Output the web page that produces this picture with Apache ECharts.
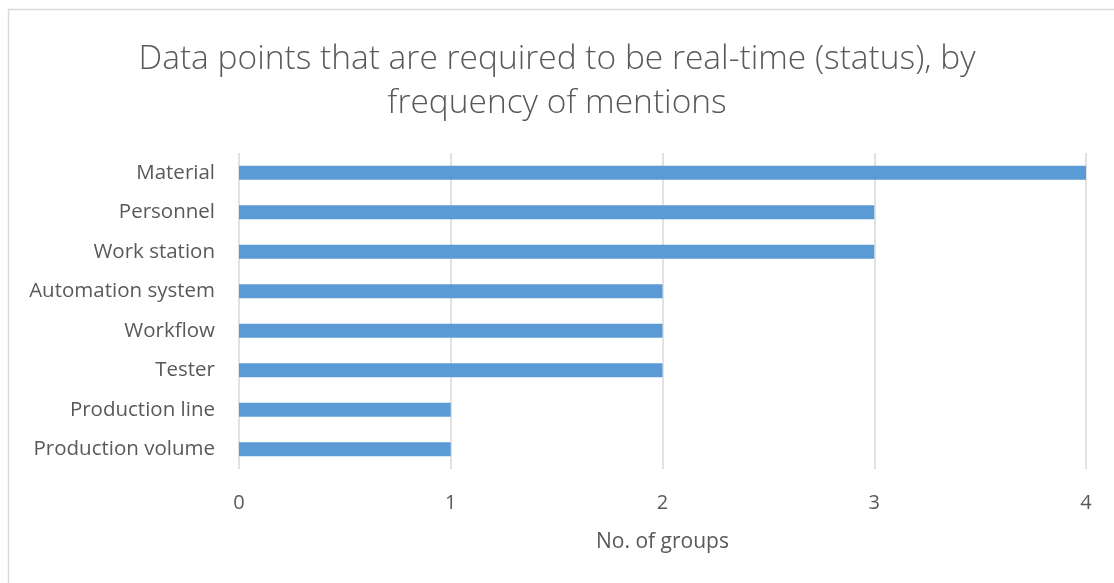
<!DOCTYPE html>
<html>
<head>
<meta charset="utf-8">
<script src="https://cdn.jsdelivr.net/npm/echarts@6/dist/echarts.min.js"></script>
<style>
html,body{margin:0;padding:0;background:#fff;}
#c{width:1114px;height:583px;}
</style>
</head>
<body>
<div id="c"></div>
<script>
const categories = ["Material","Personnel","Work station","Automation system","Workflow","Tester","Production line","Production volume"];
const values = [4,3,3,2,2,2,1,1];
const xTicks = [0,1,2,3,4];
const titleText = "Data points that are required to be real-time (status), by\nfrequency of mentions";
const xName = "No. of groups";

const chart = echarts.init(document.getElementById('c'), null, {renderer:'canvas'});
const font = "'Open Sans', sans-serif";
chart.setOption({
  animation:false,
  backgroundColor:'#fff',
  graphic:[{type:'rect',shape:{x:8.5,y:9.5,width:1200,height:700},style:{fill:'none',stroke:'#d9d9d9',lineWidth:1.5},silent:true}],
  title:{
    text:titleText,
    left:'center',
    top:32,
    textStyle:{fontFamily:font,fontSize:33.5,fontWeight:300,color:'#595959',lineHeight:44,align:'center'}
  },
  grid:{left:239,right:28,top:153,bottom:114,containLabel:false},
  xAxis:{
    type:'value',min:xTicks[0],max:xTicks[xTicks.length-1],interval:1,
    axisLine:{show:false},axisTick:{show:false},
    splitLine:{show:true,lineStyle:{color:'#d9d9d9',width:1.5}},
    axisLabel:{fontFamily:font,fontSize:20,color:'#595959',margin:24},
    name:xName,nameLocation:'middle',nameGap:63,
    nameTextStyle:{fontFamily:font,fontSize:21,color:'#595959'}
  },
  yAxis:{
    type:'category',data:categories,inverse:true,
    axisLine:{show:false},axisTick:{show:false},
    axisLabel:{fontFamily:font,fontSize:20.5,color:'#595959',margin:24}
  },
  series:[{type:'bar',data:values,barWidth:'35%',itemStyle:{color:'#5b9bd5'}}]
});
</script>
</body>
</html>
